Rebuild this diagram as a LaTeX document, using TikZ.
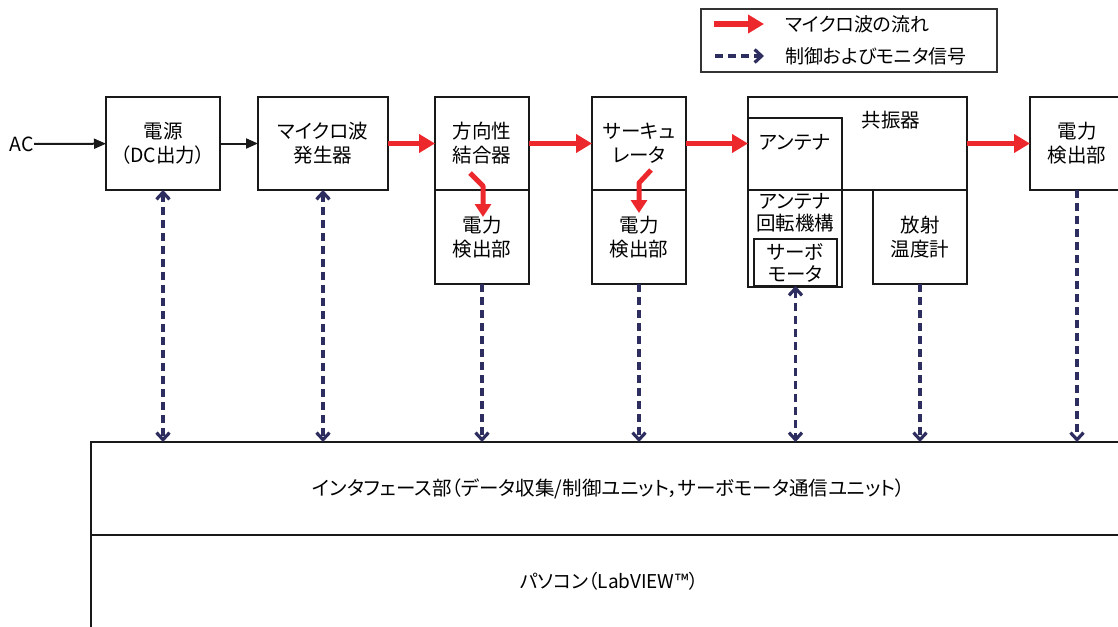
\documentclass[tikz,border=0pt]{standalone}
\usepackage{fontspec}
\setmainfont{Noto Sans CJK JP}[RawFeature=+palt]
\usetikzlibrary{arrows.meta}
\definecolor{mwred}{RGB}{236,40,44}
\definecolor{sigblue}{RGB}{45,45,95}
\tikzset{
  box/.style={draw=black!90, line width=2.3pt, inner sep=0pt, outer sep=0pt, align=center, font=\fontsize{19.5}{24}\selectfont},
  lbl/.style={inner sep=0pt, align=center, font=\fontsize{19.5}{24}\selectfont},
  mw/.style={draw=mwred, line width=5.5pt, -{Triangle[length=16pt,width=18pt]}},
  mwin/.style={draw=mwred, line width=5pt, line join=round, -{Triangle[length=13pt,width=16pt]}},
  sig/.style={draw=sigblue, line width=3.2pt, dash pattern=on 8pt off 5pt},
  sigtip/.style={-{Straight Barb[length=7pt,width=13pt]}},
  sigboth/.style={{Straight Barb[length=7pt,width=13pt]}-{Straight Barb[length=7pt,width=13pt]}},
  blk/.style={draw=black!90, line width=2pt, -{Triangle[length=12pt,width=10pt]}}
}
\begin{document}
\begin{tikzpicture}[x=1pt,y=-1pt]
\useasboundingbox (0,0) rectangle (1118,626);
% legend
\node[draw=black!80, line width=1.3pt, minimum width=296pt, minimum height=63pt, inner sep=0pt] (leg) at (849,40.5) {};
\coordinate (l1a) at (714,24); \coordinate (l1b) at (764,24);
\coordinate (l2a) at (715,56); \coordinate (l2b) at (764,56);
\draw[mw] (l1a) -- (l1b);
\draw[sig, sigtip] (l2a) -- (l2b);
\node[lbl, anchor=west, font=\fontsize{19}{22}\selectfont] (lt1) at (785,24) {マイクロ波の流れ};
\node[lbl, anchor=west, font=\fontsize{19}{22}\selectfont] (lt2) at (785,56) {制御およびモニタ信号};
% blocks
\node[lbl] (ac) at (22,144) {AC};
\node[box, minimum width=114pt, minimum height=93pt] (ps) at (163,143.5) {電源\\（DC出力）};
\node[box, minimum width=130pt, minimum height=93pt] (gen) at (323,143.5) {マイクロ波\\発生器};
\node[box, minimum width=94pt, minimum height=93pt] (dc) at (482,143.5) {方向性\\結合器};
\node[box, minimum width=94pt, minimum height=94pt] (dcpd) at (482,237) {電力\\検出部};
\node[box, minimum width=94pt, minimum height=93pt] (circ) at (639,143.5) {サーキュ\\レータ};
\node[box, minimum width=94pt, minimum height=94pt] (circpd) at (639,237) {電力\\検出部};
\node[box, minimum width=219pt, minimum height=93pt] (res) at (857.5,143.5) {};
\node[lbl] (restxt) at (891,120) {共振器};
\node[box, minimum width=94pt, minimum height=72pt] (ant) at (795,154) {};
\node[lbl] (anttxt) at (795,142) {アンテナ};
\node[box, minimum width=94pt, minimum height=97pt] (rot) at (795,238.5) {};
\node[lbl, font=\fontsize{19.5}{22}\selectfont] (rottxt) at (795,213) {アンテナ\\回転機構};
\node[box, line width=1.8pt, minimum width=83pt, minimum height=47pt, font=\fontsize{19.5}{22}\selectfont] (servo) at (795.5,262.5) {サーボ\\モータ};
\node[box, minimum width=94pt, minimum height=94pt] (rad) at (920,237) {放射\\温度計};
\node[box, minimum width=94pt, minimum height=93pt] (pd) at (1077,143.5) {電力\\検出部};
\node[box, minimum width=1060pt, minimum height=93pt] (iface) at (621,488.5) {};
\node[lbl, font=\fontsize{19.5}{22}\selectfont] (ifacetxt) at (609,489) {インタフェース部（データ収集/制御ユニット，サーボモータ通信ユニット）};
\node[box, minimum width=1060pt, minimum height=110pt] (pc) at (621,590) {};
\node[lbl, font=\fontsize{19}{22}\selectfont] (pctxt) at (609,581) {パソコン（LabVIEW™）};
% flow
\draw[blk] (ac) -- (ps);
\draw[blk] (ps) -- (gen);
\draw[mw] (gen) -- (dc);
\draw[mw] (dc) -- (circ);
\draw[mw] (circ.east) -- (res.west |- circ.east);
\draw[mw] (res.east |- pd.west) -- (pd.west);
\coordinate (dcs) at (470,173); \coordinate (dcb) at (483,186); \coordinate (dce) at (483,217);
\draw[mwin] (dcs) -- (dcb) -- (dce);
\coordinate (cis) at (651,170); \coordinate (cib) at (639,183); \coordinate (cie) at (639,213);
\draw[mwin] (cis) -- (cib) -- (cie);
% signals
\draw[sig, sigboth] (ps.south) -- (ps.south |- iface.north);
\draw[sig, sigboth] (gen.south) -- (gen.south |- iface.north);
\draw[sig, sigtip] (dcpd.south) -- (dcpd.south |- iface.north);
\draw[sig, sigtip] (circpd.south) -- (circpd.south |- iface.north);
\draw[sig, sigboth] (servo.south) -- (servo.south |- iface.north);
\draw[sig, sigtip] (rad.south) -- (rad.south |- iface.north);
\draw[sig, sigtip] (pd.south) -- (pd.south |- iface.north);
\end{tikzpicture}
\end{document}
